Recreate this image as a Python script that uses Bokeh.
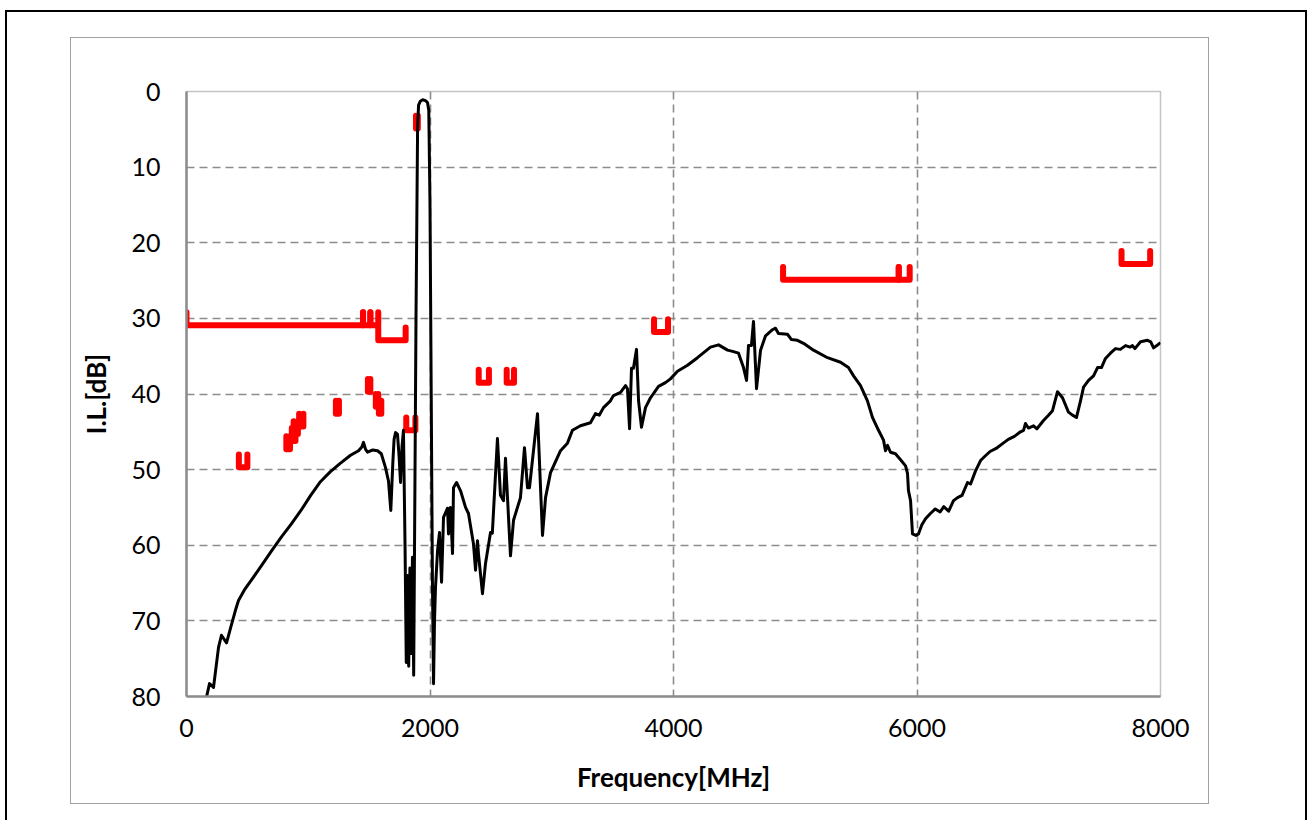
from bokeh.plotting import figure
from bokeh.models import Range1d, FixedTicker
from bokeh.embed import file_html
from bokeh.resources import INLINE

# ---- measured insertion-loss curve (MHz, dB) ----
freq_mhz = [164, 189, 222, 263, 287, 329, 361, 402, 427, 480, 550, 620, 700, 780, 860, 940,
            1020, 1100, 1180, 1260, 1347, 1413, 1440, 1454, 1470, 1487, 1530, 1569, 1600, 1634,
            1659, 1678, 1695, 1705, 1717, 1733, 1745, 1758, 1770, 1782, 1795, 1805, 1815, 1825,
            1835, 1845, 1856, 1866, 1873, 1885, 1898, 1906, 1920, 1940, 1963, 1980, 1990, 2000,
            2010, 2020, 2029, 2037, 2045, 2062, 2078, 2095, 2111, 2144, 2152, 2168, 2185, 2193,
            2218, 2251, 2292, 2316, 2357, 2374, 2390, 2398, 2431, 2456, 2497, 2512, 2554, 2579,
            2604, 2620, 2661, 2686, 2743, 2776, 2801, 2817, 2883, 2924, 2949, 2990, 3072, 3129,
            3170, 3236, 3318, 3359, 3390, 3425, 3482, 3507, 3565, 3606, 3622, 3639, 3655, 3671,
            3696, 3713, 3737, 3770, 3811, 3877, 3934, 3975, 4033, 4115, 4197, 4304, 4370, 4444,
            4493, 4534, 4575, 4600, 4616, 4640, 4657, 4682, 4715, 4756, 4813, 4838, 4862, 4936,
            4969, 5018, 5068, 5150, 5265, 5372, 5437, 5479, 5536, 5593, 5634, 5684, 5725, 5741,
            5758, 5782, 5823, 5865, 5906, 5922, 5930, 5947, 5963, 5990, 6012, 6040, 6070, 6110,
            6150, 6190, 6220, 6260, 6300, 6333, 6370, 6415, 6440, 6480, 6522, 6560, 6600, 6650,
            6700, 6750, 6800, 6850, 6875, 6891, 6915, 6957, 6985, 7039, 7080, 7113, 7154, 7195,
            7244, 7277, 7310, 7343, 7368, 7409, 7450, 7483, 7515, 7548, 7589, 7630, 7670, 7713,
            7750, 7770, 7790, 7836, 7893, 7920, 7943, 7970, 8000]
il_db = [80.1, 78.3, 78.8, 73.5, 71.9, 72.9, 71.0, 68.6, 67.3, 65.8, 64.2, 62.6, 60.7, 58.9, 57.2, 55.4,
         53.4, 51.6, 50.3, 49.2, 48.1, 47.5, 47.0, 46.4, 47.3, 47.7, 47.4, 47.5, 47.9, 49.7,
         51.5, 55.4, 49.0, 46.0, 45.1, 45.3, 48.0, 51.7, 47.0, 44.8, 60.0, 75.5, 64.0, 76.0,
         63.0, 74.3, 61.6, 77.2, 60.0, 30.0, 5.0, 1.8, 1.3, 1.1, 1.2, 1.5, 2.5, 15.0,
         40.0, 65.0, 78.3, 70.0, 65.6, 60.7, 58.3, 64.9, 56.3, 55.1, 58.5, 55.0, 61.1, 52.4,
         51.7, 52.8, 55.0, 55.8, 59.8, 63.3, 59.4, 61.1, 66.4, 62.4, 58.3, 58.4, 45.9, 53.4,
         54.1, 48.5, 61.4, 56.7, 53.7, 47.1, 52.4, 52.4, 42.6, 58.7, 53.7, 50.4, 47.5, 46.5,
         44.8, 44.2, 43.8, 42.6, 42.8, 41.8, 40.9, 40.2, 39.8, 38.9, 39.3, 44.6, 36.6, 36.6,
         34.1, 40.9, 44.4, 41.8, 40.5, 39.0, 38.5, 38.0, 37.0, 36.2, 35.2, 33.8, 33.5, 34.2,
         34.4, 34.6, 36.5, 38.2, 33.6, 33.6, 30.4, 39.3, 34.2, 32.3, 31.5, 31.3, 32.0, 32.1,
         32.8, 32.9, 33.3, 34.2, 35.2, 35.8, 36.5, 37.6, 38.9, 40.9, 43.1, 44.8, 46.1, 47.5,
         46.8, 47.7, 47.9, 48.7, 49.5, 50.5, 52.8, 54.1, 58.5, 58.7, 58.5, 57.3, 56.5, 55.8,
         55.2, 55.6, 54.9, 55.5, 54.1, 53.7, 53.4, 51.7, 51.9, 50.2, 48.8, 48.2, 47.6, 47.2,
         46.6, 46.0, 45.6, 45.0, 44.8, 43.9, 44.5, 44.2, 44.6, 43.5, 42.8, 42.2, 39.7, 40.5,
         42.4, 42.8, 43.1, 40.9, 39.1, 38.2, 37.6, 36.5, 36.5, 35.3, 34.6, 34.0, 34.1, 33.6,
         33.8, 33.6, 34.0, 33.1, 32.9, 33.1, 33.9, 33.6, 33.2]

# ---- specification limits (start MHz, stop MHz, level dB) ----
spec_start = [0, 1450, 1510, 1575, 430, 820, 865, 880, 925, 1227, 1490, 1555, 1580, 1805, 1885,
              2400, 2630, 3840, 4900, 5850, 7680]
spec_stop = [1450, 1510, 1575, 1800, 500, 850, 895, 915, 960, 1252, 1510, 1575, 1600, 1880, 1900,
             2484, 2690, 3955, 5850, 5940, 7915]
spec_level = [30.9, 30.9, 30.9, 32.9, 49.7, 47.3, 46.2, 45.3, 44.3, 42.6, 39.7, 41.7, 42.6, 44.8, 4.9,
              38.5, 38.5, 31.8, 24.9, 24.9, 22.8]
spec_tick = 1.7

x_ticks = [0, 2000, 4000, 6000, 8000]
y_ticks = [0, 10, 20, 30, 40, 50, 60, 70, 80]

FONT = "Lato"

p = figure(width=1312, height=820, output_backend="svg", toolbar_location=None,
           x_range=Range1d(0, 8000), y_range=Range1d(80, 0),
           min_border_left=186, min_border_right=152, min_border_top=91, min_border_bottom=124,
           background_fill_color="white", border_fill_color="white")

p.outline_line_color = "#c4c4c4"
p.outline_line_width = 1.5

for g, t in ((p.xgrid, x_ticks), (p.ygrid, y_ticks)):
    g.ticker = FixedTicker(ticks=t)
    g.grid_line_color = "#8c8c8c"
    g.grid_line_dash = "8 5"
    g.grid_line_width = 1.6

p.xaxis.ticker = FixedTicker(ticks=x_ticks)
p.yaxis.ticker = FixedTicker(ticks=y_ticks)
for ax in (p.xaxis[0], p.yaxis[0]):
    ax.axis_line_color = "#8c8c8c"
    ax.axis_line_width = 2.5
    ax.major_tick_line_color = None
    ax.minor_tick_line_color = None
    ax.major_tick_out = 0
    ax.major_tick_in = 0
    ax.major_label_text_font = FONT
    ax.major_label_text_font_size = "25px"
    ax.major_label_text_color = "black"
    ax.axis_label_text_font = FONT
    ax.axis_label_text_font_size = "26px"
    ax.axis_label_text_font_style = "bold"
    ax.axis_label_text_color = "black"

p.xaxis.axis_label = "Frequency[MHz]"
p.yaxis.axis_label = "I.L.[dB]"
p.xaxis.major_label_standoff = 22
p.xaxis.axis_label_standoff = 21
p.yaxis.major_label_standoff = 26
p.yaxis.axis_label_standoff = 16

# spec masks as U shapes
xs, ys = [], []
for f1, f2, lv in zip(spec_start, spec_stop, spec_level):
    xs.append([f1, f1, f2, f2])
    ys.append([lv - spec_tick, lv, lv, lv - spec_tick])
p.multi_line(xs, ys, line_color="#ff0000", line_width=6, line_cap="round", line_join="round")

p.line(freq_mhz, il_db, line_color="black", line_width=3, line_join="round")

html = file_html(p, INLINE)
frames = (
    '<div style="position:absolute;left:70px;top:37px;width:1139px;height:767px;'
    'border:1.5px solid #a0a0a0;box-sizing:border-box;pointer-events:none;"></div>'
    '<div style="position:absolute;left:5px;top:10px;width:1302px;height:840px;'
    'border:2.5px solid #000;box-sizing:border-box;pointer-events:none;"></div>'
)
html = html.replace("</body>", frames + "</body>")
open("out.html", "w").write(html)
